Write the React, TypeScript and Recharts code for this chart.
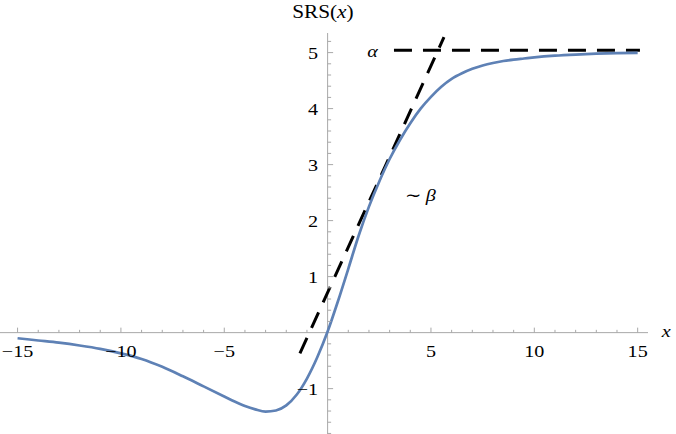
import React from 'react';
import { LineChart, Line, XAxis, YAxis, ReferenceLine, ReferenceDot } from 'recharts';

// SRS(x) curve
const curveX = [-15, -14, -13, -12, -11, -10, -9, -8, -7, -6, -5, -4.5, -4, -3.5, -3, -2.5, -2, -1.5, -1, -0.5, 0, 0.5, 1, 1.5, 2, 2.5, 3, 3.5, 4, 4.5, 5, 5.5, 6, 6.5, 7, 7.5, 8, 8.5, 9, 9.5, 10, 11, 12, 13, 14, 15];
const curveY = [-0.10, -0.14, -0.18, -0.23, -0.29, -0.37, -0.47, -0.61, -0.78, -0.96, -1.14, -1.23, -1.31, -1.37, -1.41, -1.39, -1.30, -1.11, -0.82, -0.44, 0.02, 0.56, 1.14, 1.73, 2.25, 2.70, 3.10, 3.44, 3.74, 4.00, 4.21, 4.39, 4.53, 4.63, 4.71, 4.77, 4.815, 4.85, 4.875, 4.895, 4.915, 4.945, 4.965, 4.98, 4.99, 4.995];

// dashed guides: slope ~beta and asymptote alpha
const tangentX = [-1.34, 5.63];
const tangentY = [-0.37, 5.275];
const alphaX = [3.21, 15.11];
const alphaY = [5.04, 5.04];

const xMajor = [-15, -10, -5, 5, 10, 15];
const xMinor = [-14, -13, -12, -11, -9, -8, -7, -6, -4, -3, -2, -1, 1, 2, 3, 4, 6, 7, 8, 9, 11, 12, 13, 14];
const yMajor = [-1, 1, 2, 3, 4, 5];
const yMinor = [-1.8, -1.6, -1.4, -1.2, -0.8, -0.6, -0.4, -0.2, 0.2, 0.4, 0.6, 0.8, 1.2, 1.4, 1.6, 1.8, 2.2, 2.4, 2.6, 2.8, 3.2, 3.4, 3.6, 3.8, 4.2, 4.4, 4.6, 4.8, 5.2];

const curveData = curveX.map((x, i) => ({ x, y: curveY[i] }));
const tangentData = tangentX.map((x, i) => ({ x, y: tangentY[i] }));
const alphaData = alphaX.map((x, i) => ({ x, y: alphaY[i] }));

const FONT = "'Liberation Serif', 'Times New Roman', Times, serif";
const AXIS = '#a8a8a8';
const INK = '#000';

const fmt = (v: number) => (v < 0 ? `\u2212${-v}` : `${v}`);

const T = ({ x, y, anchor = 'middle', size = 17.5, children }: any) => (
  <text
    transform={`translate(${x},${y}) scale(1.15,1)`}
    textAnchor={anchor}
    fontSize={size}
    fontFamily={FONT}
    fill={INK}
  >
    {children}
  </text>
);

const xTick = (len: number, label?: string) => (p: any) => (
  <g>
    <line x1={p.cx} y1={p.cy} x2={p.cx} y2={p.cy - len} stroke={AXIS} strokeWidth={1} />
    {label && <T x={p.cx} y={p.cy + 24}>{label}</T>}
  </g>
);

const yTick = (len: number, label?: string) => (p: any) => (
  <g>
    <line x1={p.cx} y1={p.cy} x2={p.cx + len} y2={p.cy} stroke={AXIS} strokeWidth={1} />
    {label && <T x={p.cx - 9.5} y={p.cy + 6.3} anchor="end">{label}</T>}
  </g>
);

export default function App() {
  return (
    <div style={{ position: 'absolute', left: 0, top: 0, background: '#fff' }}>
      <LineChart width={676} height={434} margin={{ top: 33, right: 28, bottom: 0, left: 0 }}>
        <XAxis type="number" dataKey="x" domain={[-15.85, 15.5]} allowDataOverflow hide />
        <YAxis type="number" dataKey="y" domain={[-1.81, 5.35]} allowDataOverflow hide />

        <ReferenceLine y={0} stroke={AXIS} strokeWidth={1} />
        <ReferenceLine x={0} stroke={AXIS} strokeWidth={1} />

        {xMinor.map((v) => (
          <ReferenceDot key={`xm${v}`} x={v} y={0} r={0} shape={xTick(2.8)} />
        ))}
        {xMajor.map((v) => (
          <ReferenceDot key={`xM${v}`} x={v} y={0} r={0} shape={xTick(5, fmt(v))} />
        ))}
        {yMinor.map((v) => (
          <ReferenceDot key={`ym${v}`} x={0} y={v} r={0} shape={yTick(3.5)} />
        ))}
        {yMajor.map((v) => (
          <ReferenceDot key={`yM${v}`} x={0} y={v} r={0} shape={yTick(5.5, fmt(v))} />
        ))}

        <Line
          data={alphaData}
          dataKey="y"
          type="linear"
          stroke="#000"
          strokeWidth={3}
          strokeDasharray="18 11"
          dot={false}
          isAnimationActive={false}
        />
        <Line
          data={tangentData}
          dataKey="y"
          type="linear"
          stroke="#000"
          strokeWidth={3}
          strokeDasharray="17 11"
          dot={false}
          isAnimationActive={false}
        />
        <Line
          data={curveData}
          dataKey="y"
          type="monotone"
          stroke="#5e81b5"
          strokeWidth={2.7}
          dot={false}
          isAnimationActive={false}
        />

        <ReferenceDot
          x={-0.23}
          y={5.61}
          r={0}
          ifOverflow="visible"
          shape={(p: any) => (
            <T x={p.cx} y={p.cy} size={18.5}>
              SRS(<tspan fontStyle="italic">x</tspan>)
            </T>
          )}
        />
        <ReferenceDot
          x={16.17}
          y={-0.077}
          r={0}
          ifOverflow="visible"
          shape={(p: any) => (
            <T x={p.cx} y={p.cy} anchor="start">
              <tspan fontStyle="italic">x</tspan>
            </T>
          )}
        />
        <ReferenceDot
          x={2.17}
          y={4.93}
          r={0}
          shape={(p: any) => (
            <T x={p.cx} y={p.cy}>
              <tspan fontStyle="italic">α</tspan>
            </T>
          )}
        />
        <ReferenceDot
          x={4.49}
          y={2.35}
          r={0}
          shape={(p: any) => (
            <T x={p.cx} y={p.cy}>
              {'\u223C'}<tspan fontStyle="italic" dx={3}>β</tspan>
            </T>
          )}
        />
      </LineChart>
    </div>
  );
}
